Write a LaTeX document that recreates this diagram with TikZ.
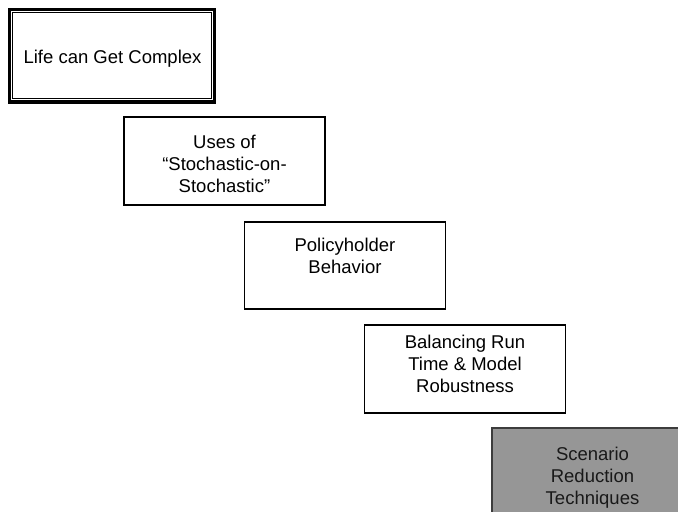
\documentclass[tikz,border=0pt]{standalone}
\usepackage{fontspec}
\setmainfont{Liberation Sans}
\begin{document}
\begin{tikzpicture}[x=1bp,y=-1bp,
  boxnode/.style={draw=black, line width=1.3bp, rectangle, inner sep=0pt, minimum width=201bp, minimum height=88bp},
  txt/.style={anchor=north, inner sep=0pt, align=center, font=\fontsize{18.5bp}{22bp}\selectfont, text=black}]
\clip (0,0) rectangle (678,512);
\fill[white] (0,0) rectangle (678,512);
% Box 1 with triple frame
\node[draw=black, line width=3bp, rectangle, inner sep=0pt, minimum width=205bp, minimum height=93bp] (b1) at (112,56) {};
\draw[line width=1bp] ([shift={(3bp,-3bp)}]b1.north west) rectangle ([shift={(-3bp,3bp)}]b1.south east);
\draw[line width=1bp] ([shift={(5bp,-5bp)}]b1.north west) rectangle ([shift={(-5bp,5bp)}]b1.south east);
\node[txt] (t1) at (112.5,50) {Life can Get Complex};
% Box 2
\node[boxnode] (b2) at (224.5,161) {};
\node[txt] (t2) at (224.5,135) {Uses of\\``Stochastic-on-\\Stochastic''};
% Box 3
\node[boxnode, minimum height=87bp] (b3) at (345,265.5) {};
\node[txt] (t3) at (345,238) {Policyholder\\Behavior};
% Box 4
\node[boxnode] (b4) at (465,369) {};
\node[txt] (t4) at (465,335) {Balancing Run\\Time \& Model\\Robustness};
% Box 5
\node[boxnode, draw={rgb,255:red,60;green,60;blue,60}, fill={rgb,255:red,150;green,150;blue,150}] (b5) at (592.5,472) {};
\node[txt, text={rgb,255:red,25;green,25;blue,25}] (t5) at (592.5,447) {Scenario\\Reduction\\Techniques};
\end{tikzpicture}
\end{document}
